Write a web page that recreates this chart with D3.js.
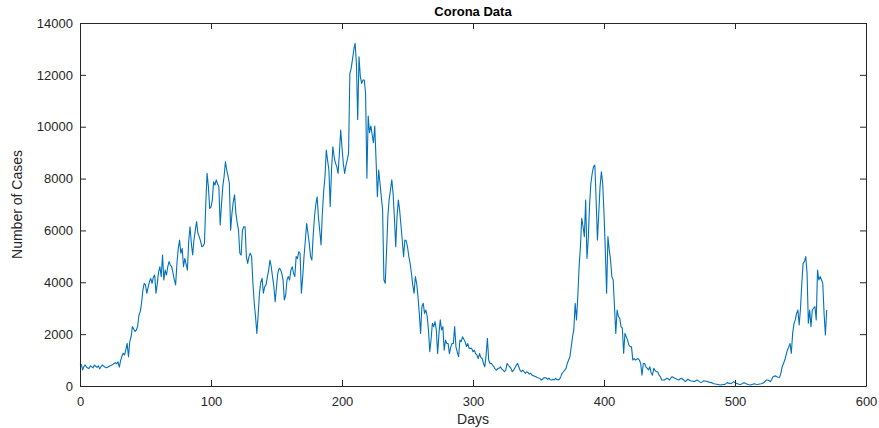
<!DOCTYPE html>
<html>
<head>
<meta charset="utf-8">
<script src="https://cdn.jsdelivr.net/npm/d3@7"></script>
<style>
  html, body { margin: 0; padding: 0; background: #fff; }
  svg { display: block; font-family: "Liberation Sans", Arial, sans-serif; }
</style>
</head>
<body>
<svg id="chart" width="879" height="428"></svg>
<script>
// Daily new cases, one value per day starting at day 0
const cases = [
  870, 820, 620, 760, 810, 720, 690, 680, 780, 740,
  700, 810, 760, 720, 780, 660, 740, 810, 770, 730,
  700, 720, 750, 780, 800, 830, 870, 900, 860, 935,
  730, 980, 1150, 1260, 1200, 1400, 1645, 1130, 1710, 1900,
  2290, 2200, 2100, 2160, 2300, 2740, 2870, 3200, 3700, 3960,
  3900, 3575, 3800, 4020, 4150, 3960, 4200, 4280, 3575, 3960,
  4400, 4600, 4220, 5050, 4090, 4470, 4280, 4600, 4800, 4650,
  4600, 4350, 4100, 3900, 4730, 5300, 5630, 5120, 5310, 4600,
  4920, 4700, 4470, 5600, 6140, 5500, 5050, 5630, 6000, 6340,
  5890, 5760, 5600, 5370, 5400, 5500, 7000, 8200, 7690, 6850,
  6900, 7170, 7880, 7750, 7950, 7800, 7690, 6210, 7000, 7690,
  8080, 8650, 8330, 8100, 7820, 6010, 6660, 7100, 7370, 6660,
  6300, 6010, 5120, 5050, 6000, 6140, 6140, 4990, 4730, 5000,
  5120, 4990, 3960, 3200, 2680, 2030, 2740, 3580, 4000, 4150,
  3580, 3830, 3900, 4200, 4470, 4860, 4600, 4200, 3830, 3250,
  3830, 4350, 4540, 4500, 4350, 4090, 3320, 3500, 4090, 4220,
  4090, 4470, 4600, 4350, 4220, 4990, 4920, 5180, 5120, 3575,
  4200, 4990, 5600, 6270, 5900, 5500, 5000, 4860, 5800, 6530,
  7000, 7300, 6530, 6000, 5440, 6660, 7500, 8070, 9100, 8700,
  8330, 6920, 8330, 9230, 8840, 8600, 8460, 8200, 8970, 9870,
  9200, 8590, 8200, 8500, 8720, 8970, 12060, 12250, 12600, 12960,
  13220, 12450, 10280, 12700, 11930, 11670, 11800, 11800, 11290, 8010,
  10410, 9770, 10030, 9700, 9380, 10030, 8720, 7300, 8330, 7820,
  7300, 6790, 4090, 3960, 5200, 6530, 7200, 7560, 7950, 7430,
  6500, 5370, 6530, 7170, 6790, 6200, 5630, 4990, 5630, 5600,
  5370, 5000, 4730, 4350, 3900, 3575, 4220, 3960, 3450, 2800,
  2030, 3060, 3190, 2800, 2930, 2700, 2160, 1320, 1800, 2420,
  2290, 2480, 2160, 1250, 2000, 2550, 2160, 2290, 1380, 1770,
  1640, 1640, 1250, 1500, 1640, 1640, 2290, 1510, 1300, 1130,
  1770, 1710, 1900, 1800, 1710, 1520, 1640, 1450, 1450, 1450,
  1320, 1380, 1250, 1190, 1060, 1250, 1100, 1060, 870, 740,
  1190, 1840, 990, 870, 870, 800, 740, 650, 610, 680,
  690, 740, 650, 610, 550, 610, 870, 800, 740, 680,
  550, 610, 700, 800, 870, 740, 600, 550, 610, 550,
  490, 550, 520, 460, 490, 420, 400, 380, 360, 330,
  310, 300, 230, 260, 310, 330, 300, 260, 300, 240,
  230, 260, 230, 300, 250, 230, 260, 360, 490, 550,
  610, 680, 870, 1000, 1130, 1520, 1900, 2200, 3190, 2550,
  3450, 4600, 5370, 6470, 6150, 5760, 7170, 4920, 5690, 7000,
  7820, 8200, 8460, 8520, 7170, 5630, 6660, 7690, 8260, 7820,
  6660, 5250, 3575, 5760, 5250, 4860, 4220, 4090, 3060, 2030,
  2930, 2680, 2620, 2290, 2230, 1260, 2030, 1900, 1770, 1580,
  1520, 1510, 1000, 1060, 1000, 1030, 1060, 1000, 870, 420,
  870, 870, 740, 680, 620, 740, 500, 420, 680, 600,
  550, 550, 420, 360, 230, 230, 230, 260, 300, 280,
  230, 300, 360, 330, 300, 280, 250, 230, 270, 300,
  260, 220, 170, 210, 260, 230, 200, 190, 180, 170,
  200, 230, 200, 160, 130, 160, 200, 190, 180, 170,
  150, 140, 130, 110, 90, 80, 70, 60, 50, 40,
  50, 60, 60, 90, 130, 110, 100, 90, 130, 170,
  130, 100, 90, 70, 60, 80, 110, 130, 100, 80,
  60, 50, 40, 60, 80, 90, 70, 60, 70, 80,
  90, 110, 130, 180, 230, 230, 200, 170, 250, 360,
  380, 390, 360, 340, 330, 490, 740, 870, 1000, 1200,
  1390, 1500, 1640, 1260, 2030, 2400, 2550, 2800, 2930, 2350,
  3000, 3960, 4730, 4800, 4990, 4350, 2420, 2930, 2290, 2930,
  3000, 3060, 2550, 4470, 4090, 4220, 4100, 3960, 2800, 1970,
  2930
];
const days = cases.map((_, i) => i);

const xTicks = [0, 100, 200, 300, 400, 500, 600];
const yTicks = [0, 2000, 4000, 6000, 8000, 10000, 12000, 14000];
const titleText = "Corona Data";
const xLabel = "Days";
const yLabel = "Number of Cases";

const svg = d3.select("#chart");
const margin = { left: 80, right: 13, top: 23, bottom: 42 };
const W = +svg.attr("width"), H = +svg.attr("height");
const plotW = W - margin.left - margin.right;
const plotH = H - margin.top - margin.bottom;

const x = d3.scaleLinear().domain([0, 600]).range([margin.left, margin.left + plotW]);
const y = d3.scaleLinear().domain([0, 14000]).range([margin.top + plotH, margin.top]);

const axisColor = "#262626";
const tickLen = 6;

// Data line
const line = d3.line().x((d, i) => x(days[i])).y(d => y(d));
svg.append("path")
  .datum(cases)
  .attr("fill", "none")
  .attr("stroke", "#0072BD")
  .attr("stroke-width", 1.1)
  .attr("stroke-linejoin", "round")
  .attr("d", line);

// Axes (ticks pointing inward, box on all four sides)
function styleAxis(g) {
  g.select(".domain").attr("stroke", axisColor).attr("stroke-width", 1);
  g.selectAll(".tick line").attr("stroke", axisColor).attr("stroke-width", 1);
  g.selectAll(".tick text").attr("fill", axisColor).style("font-size", "13px");
}

svg.append("g")
  .attr("transform", `translate(0,${margin.top + plotH})`)
  .call(d3.axisBottom(x).tickValues(xTicks).tickSizeInner(-tickLen).tickSizeOuter(0).tickPadding(11).tickFormat(d3.format("d")))
  .call(styleAxis)
  .call(g => g.selectAll(".tick text").attr("dy", "0.71em"));

svg.append("g")
  .attr("transform", `translate(${margin.left},0)`)
  .call(d3.axisLeft(y).tickValues(yTicks).tickSizeInner(-tickLen).tickSizeOuter(0).tickPadding(7).tickFormat(d3.format("d")))
  .call(styleAxis);

svg.append("g")
  .attr("transform", `translate(0,${margin.top})`)
  .call(d3.axisTop(x).tickValues(xTicks).tickSizeInner(-tickLen).tickSizeOuter(0).tickFormat(""))
  .call(styleAxis);

svg.append("g")
  .attr("transform", `translate(${margin.left + plotW},0)`)
  .call(d3.axisRight(y).tickValues(yTicks).tickSizeInner(-tickLen).tickSizeOuter(0).tickFormat(""))
  .call(styleAxis);

// Title and axis labels
svg.append("text")
  .attr("x", margin.left + plotW / 2)
  .attr("y", 16)
  .attr("text-anchor", "middle")
  .attr("fill", "#000")
  .style("font-size", "13px")
  .style("font-weight", "bold")
  .text(titleText);

svg.append("text")
  .attr("x", margin.left + plotW / 2)
  .attr("y", 424)
  .attr("text-anchor", "middle")
  .attr("fill", axisColor)
  .style("font-size", "14px")
  .text(xLabel);

svg.append("text")
  .attr("transform", `translate(22,${margin.top + plotH / 2}) rotate(-90)`)
  .attr("text-anchor", "middle")
  .attr("fill", axisColor)
  .style("font-size", "14px")
  .text(yLabel);
</script>
</body>
</html>
